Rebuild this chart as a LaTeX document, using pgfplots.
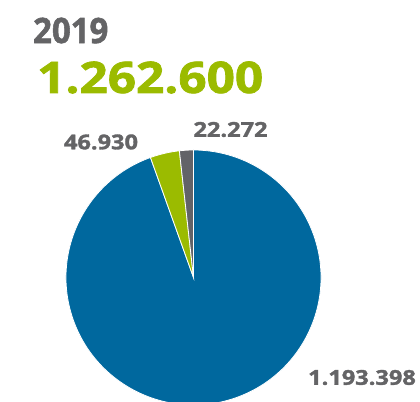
\documentclass[border=0pt]{standalone}
\usepackage{pgfplots}
\pgfplotsset{compat=1.18}
\usepackage{pgfplotstable}
\usepackage{fontspec}
\setmainfont{Open Sans}[BoldFeatures={FakeBold=1.6}]
\definecolor{pieblue}{RGB}{0,104,158}
\definecolor{piegreen}{RGB}{155,187,0}
\definecolor{piegray}{RGB}{98,99,104}
\definecolor{txtgray}{RGB}{100,100,102}

\pgfplotstableread{
label value
22.272 22272
46.930 46930
1.193.398 1193398
}\piedata

\pgfplotstablegetelem{0}{value}\of\piedata \edef\vA{\pgfplotsretval}
\pgfplotstablegetelem{1}{value}\of\piedata \edef\vB{\pgfplotsretval}
\pgfplotstablegetelem{2}{value}\of\piedata \edef\vC{\pgfplotsretval}
\edef\aA{\fpeval{90+360*\vA/(\vA+\vB+\vC)}}
\edef\aB{\fpeval{\aA+360*\vB/(\vA+\vB+\vC)}}

\begin{document}
\begin{tikzpicture}
\begin{axis}[
  width=420bp, height=402bp, scale only axis,
  xmin=0, xmax=420, ymin=0, ymax=402,
  hide axis, clip=true,
]
\addplot[draw=none, forget plot] coordinates {(0,0) (420,402)};
% blue slice
\draw[fill=pieblue, draw=white, line width=0.8bp]
  (axis cs:193.5,124.5) -- ++(\aB:127.5bp) arc[start angle=\aB, end angle=450, radius=127.5bp] -- cycle;
% green slice
\draw[fill=piegreen, draw=white, line width=0.8bp]
  (axis cs:193.5,124.5) -- ++(\aA:127.5bp) arc[start angle=\aA, end angle=\aB, radius=127.5bp] -- cycle;
% gray slice
\draw[fill=piegray, draw=white, line width=0.8bp]
  (axis cs:193.5,124.5) -- ++(90:127.5bp) arc[start angle=90, end angle=\aA, radius=127.5bp] -- cycle;

\node[anchor=west, inner sep=0, text=txtgray, font=\fontsize{35bp}{36bp}\selectfont\bfseries, xscale=0.94]
  at (axis cs:33,371.5) {2019};
\node[anchor=west, inner sep=0, text=piegreen, font=\fontsize{43.4bp}{44bp}\selectfont\bfseries, xscale=1.14]
  at (axis cs:37,324.5) {1.262.600};
\node[anchor=center, inner sep=0, text=txtgray, font=\fontsize{20.5bp}{21bp}\selectfont\bfseries, xscale=1.15]
  at (axis cs:101,260) {46.930};
\node[anchor=center, inner sep=0, text=txtgray, font=\fontsize{20.5bp}{21bp}\selectfont\bfseries, xscale=1.15]
  at (axis cs:230.5,272.5) {22.272};
\node[anchor=center, inner sep=0, text=txtgray, font=\fontsize{20.5bp}{21bp}\selectfont\bfseries, xscale=1.15]
  at (axis cs:362,24.5) {1.193.398};
\end{axis}
\end{tikzpicture}
\end{document}
